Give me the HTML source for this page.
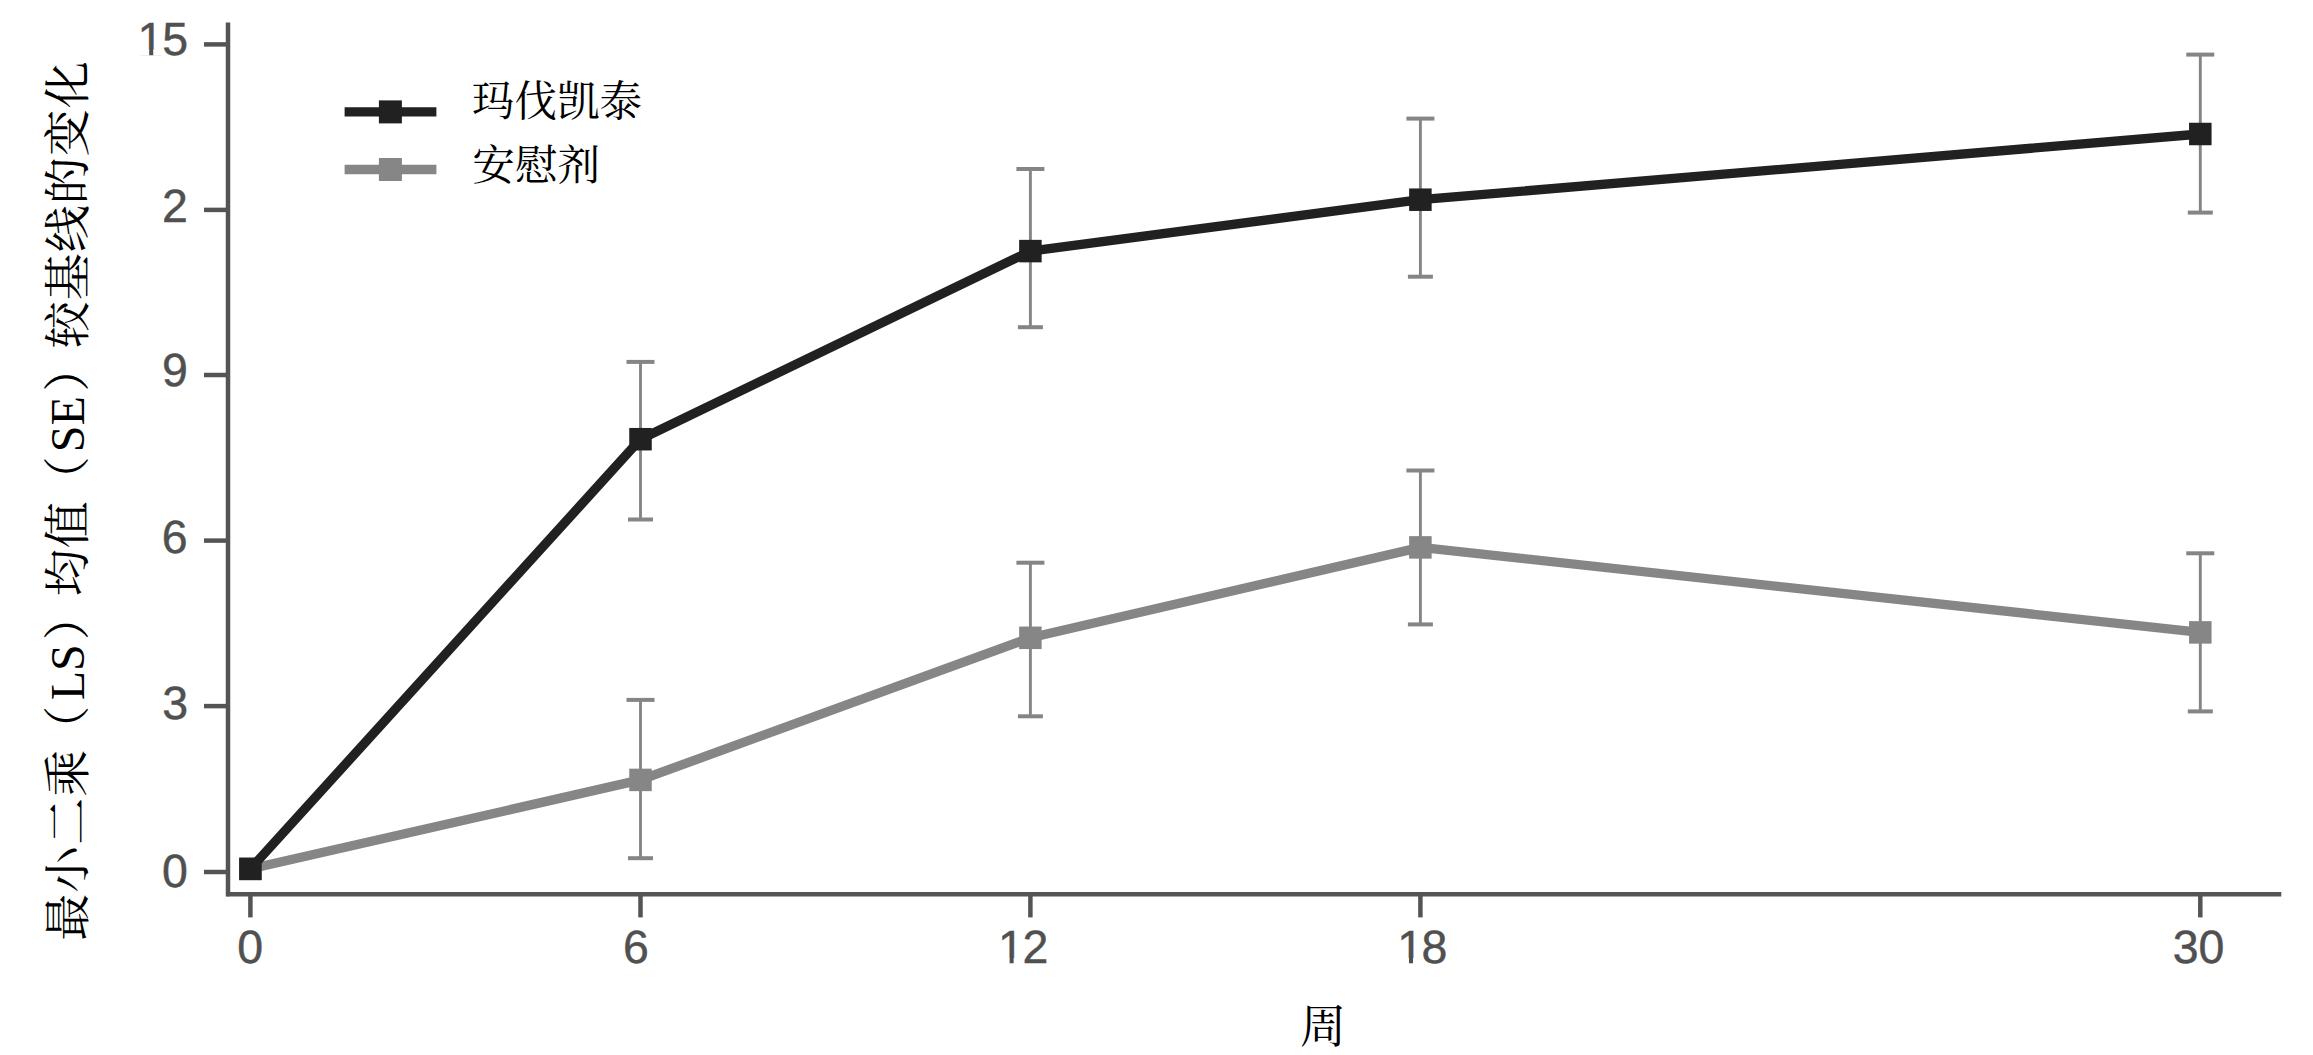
<!DOCTYPE html>
<html lang="zh-CN"><head><meta charset="utf-8"><title>最小二乘（LS）均值（SE）较基线的变化</title>
<style>
html,body{margin:0;padding:0;background:#fff;}
body{width:2313px;height:1055px;overflow:hidden;position:relative;}
svg{position:absolute;left:0;top:0;display:block;}
.num{font-family:"Liberation Sans",sans-serif;font-size:46.5px;fill:#505050;stroke:#505050;stroke-width:0.45px;text-rendering:geometricPrecision;}
.cjk{font-family:"Liberation Serif","Noto Serif CJK SC",serif;fill:#000;}
</style></head><body>
<svg width="2313" height="1055" viewBox="0 0 2313 1055">
<rect x="0" y="0" width="2313" height="1055" fill="#fff"/>
<g>
<line x1="640.5" y1="361.9" x2="640.5" y2="519.5" stroke="#858585" stroke-width="2.9"/><line x1="626.5" y1="361.9" x2="654.5" y2="361.9" stroke="#858585" stroke-width="4"/><line x1="628.0" y1="519.5" x2="653.0" y2="519.5" stroke="#858585" stroke-width="4"/>
<line x1="1030.4" y1="169.0" x2="1030.4" y2="327.2" stroke="#858585" stroke-width="2.9"/><line x1="1016.4000000000001" y1="169.0" x2="1044.4" y2="169.0" stroke="#858585" stroke-width="4"/><line x1="1017.9000000000001" y1="327.2" x2="1042.9" y2="327.2" stroke="#858585" stroke-width="4"/>
<line x1="1420.4" y1="118.6" x2="1420.4" y2="276.7" stroke="#858585" stroke-width="2.9"/><line x1="1406.4" y1="118.6" x2="1434.4" y2="118.6" stroke="#858585" stroke-width="4"/><line x1="1407.9" y1="276.7" x2="1432.9" y2="276.7" stroke="#858585" stroke-width="4"/>
<line x1="2200.3" y1="54.6" x2="2200.3" y2="212.6" stroke="#858585" stroke-width="2.9"/><line x1="2186.3" y1="54.6" x2="2214.3" y2="54.6" stroke="#858585" stroke-width="4"/><line x1="2187.8" y1="212.6" x2="2212.8" y2="212.6" stroke="#858585" stroke-width="4"/>
<line x1="640.5" y1="699.9" x2="640.5" y2="858.2" stroke="#858585" stroke-width="2.9"/><line x1="626.5" y1="699.9" x2="654.5" y2="699.9" stroke="#858585" stroke-width="4"/><line x1="628.0" y1="858.2" x2="653.0" y2="858.2" stroke="#858585" stroke-width="4"/>
<line x1="1030.4" y1="562.7" x2="1030.4" y2="716.3" stroke="#858585" stroke-width="2.9"/><line x1="1016.4000000000001" y1="562.7" x2="1044.4" y2="562.7" stroke="#858585" stroke-width="4"/><line x1="1017.9000000000001" y1="716.3" x2="1042.9" y2="716.3" stroke="#858585" stroke-width="4"/>
<line x1="1420.4" y1="470.5" x2="1420.4" y2="624.4" stroke="#858585" stroke-width="2.9"/><line x1="1406.4" y1="470.5" x2="1434.4" y2="470.5" stroke="#858585" stroke-width="4"/><line x1="1407.9" y1="624.4" x2="1432.9" y2="624.4" stroke="#858585" stroke-width="4"/>
<line x1="2200.3" y1="553.3" x2="2200.3" y2="711.4" stroke="#858585" stroke-width="2.9"/><line x1="2186.3" y1="553.3" x2="2214.3" y2="553.3" stroke="#858585" stroke-width="4"/><line x1="2187.8" y1="711.4" x2="2212.8" y2="711.4" stroke="#858585" stroke-width="4"/>
</g>
<g><polyline points="250.4,868.9 640.5,779.9 1030.4,637.8 1420.4,547.4 2200.3,632.4" fill="none" stroke="#868686" stroke-width="9.3" stroke-linejoin="round"/><rect x="239.15" y="857.65" width="22.5" height="22.5" fill="#868686"/><rect x="629.25" y="768.65" width="22.5" height="22.5" fill="#868686"/><rect x="1019.15" y="626.55" width="22.5" height="22.5" fill="#868686"/><rect x="1409.15" y="536.15" width="22.5" height="22.5" fill="#868686"/><rect x="2189.05" y="621.15" width="22.5" height="22.5" fill="#868686"/></g>
<g><polyline points="250.4,868.9 640.5,439.2 1030.4,251.1 1420.4,199.7 2200.3,134.0" fill="none" stroke="#212121" stroke-width="9.3" stroke-linejoin="round"/><rect x="239.15" y="857.65" width="22.5" height="22.5" fill="#212121"/><rect x="629.25" y="427.95" width="22.5" height="22.5" fill="#212121"/><rect x="1019.15" y="239.85" width="22.5" height="22.5" fill="#212121"/><rect x="1409.15" y="188.45" width="22.5" height="22.5" fill="#212121"/><rect x="2189.05" y="122.75" width="22.5" height="22.5" fill="#212121"/></g>
<g stroke="#545454" stroke-width="4.5" fill="none">
<line x1="228" y1="22.4" x2="228" y2="896.2"/>
<line x1="226" y1="894.2" x2="2281.3" y2="894.2"/>
<line x1="204" y1="44.4" x2="228" y2="44.4"/>
<line x1="204" y1="209.9" x2="228" y2="209.9"/>
<line x1="204" y1="375.0" x2="228" y2="375.0"/>
<line x1="204" y1="540.6" x2="228" y2="540.6"/>
<line x1="204" y1="706.1" x2="228" y2="706.1"/>
<line x1="204" y1="872.0" x2="228" y2="872.0"/>
<line x1="250.4" y1="894" x2="250.4" y2="917.4"/>
<line x1="640.5" y1="894" x2="640.5" y2="917.4"/>
<line x1="1030.4" y1="894" x2="1030.4" y2="917.4"/>
<line x1="1420.4" y1="894" x2="1420.4" y2="917.4"/>
<line x1="2200.3" y1="894" x2="2200.3" y2="917.4"/>
</g>
<text class="num" y="54.6"><tspan x="137.50">1</tspan><tspan x="162.25">5</tspan></text>
<rect x="140.00" y="49.60" width="9.18" height="6" fill="#fff"/>
<rect x="153.25" y="49.60" width="9" height="6" fill="#fff"/>
<text class="num" y="221.8"><tspan x="161.96">2</tspan></text>
<text class="num" y="386.45"><tspan x="162.10">9</tspan></text>
<text class="num" y="553.45"><tspan x="161.83">6</tspan></text>
<text class="num" y="719.4"><tspan x="162.15">3</tspan></text>
<text class="num" y="886.7"><tspan x="162.04">0</tspan></text>
<text class="num" y="963.2"><tspan x="237.30">0</tspan></text>
<text class="num" y="963.2"><tspan x="623.00">6</tspan></text>
<text class="num" y="963.2"><tspan x="997.90">1</tspan><tspan x="1022.40">2</tspan></text>
<rect x="1000.40" y="958.20" width="9.18" height="6" fill="#fff"/>
<rect x="1013.65" y="958.20" width="9" height="6" fill="#fff"/>
<text class="num" y="963.2"><tspan x="1397.30">1</tspan><tspan x="1421.50">8</tspan></text>
<rect x="1399.80" y="958.20" width="9.18" height="6" fill="#fff"/>
<rect x="1413.05" y="958.20" width="9" height="6" fill="#fff"/>
<text class="num" y="963.2"><tspan x="2172.85">3</tspan><tspan x="2198.60">0</tspan></text>
<line x1="344.6" y1="111.9" x2="436.4" y2="111.9" stroke="#212121" stroke-width="9.3"/>
<rect x="378.9" y="100.4" width="23" height="23" fill="#212121"/>
<line x1="344.6" y1="169.5" x2="436.4" y2="169.5" stroke="#868686" stroke-width="9.3"/>
<rect x="378.9" y="158.0" width="23" height="23" fill="#868686"/>
<text class="cjk" x="471.8" y="116" font-size="42.6">玛伐凯泰</text>
<text class="cjk" x="472.3" y="180" font-size="42.6">安慰剂</text>
<text class="cjk" x="1323" y="1042.3" font-size="46" text-anchor="middle">周</text>
<text class="cjk" font-size="47" letter-spacing="1" transform="translate(84,940.8) rotate(-90)">最小二乘<tspan dx="-4">（</tspan><tspan dx="4.5" font-size="48" letter-spacing="0">LS</tspan><tspan dx="4">）</tspan><tspan dx="-4">均值</tspan><tspan dx="-3">（</tspan><tspan dx="3" font-size="48" letter-spacing="0">SE</tspan><tspan dx="4.5">）</tspan><tspan dx="-4.5">较基线的变化</tspan></text>
</svg></body></html>
